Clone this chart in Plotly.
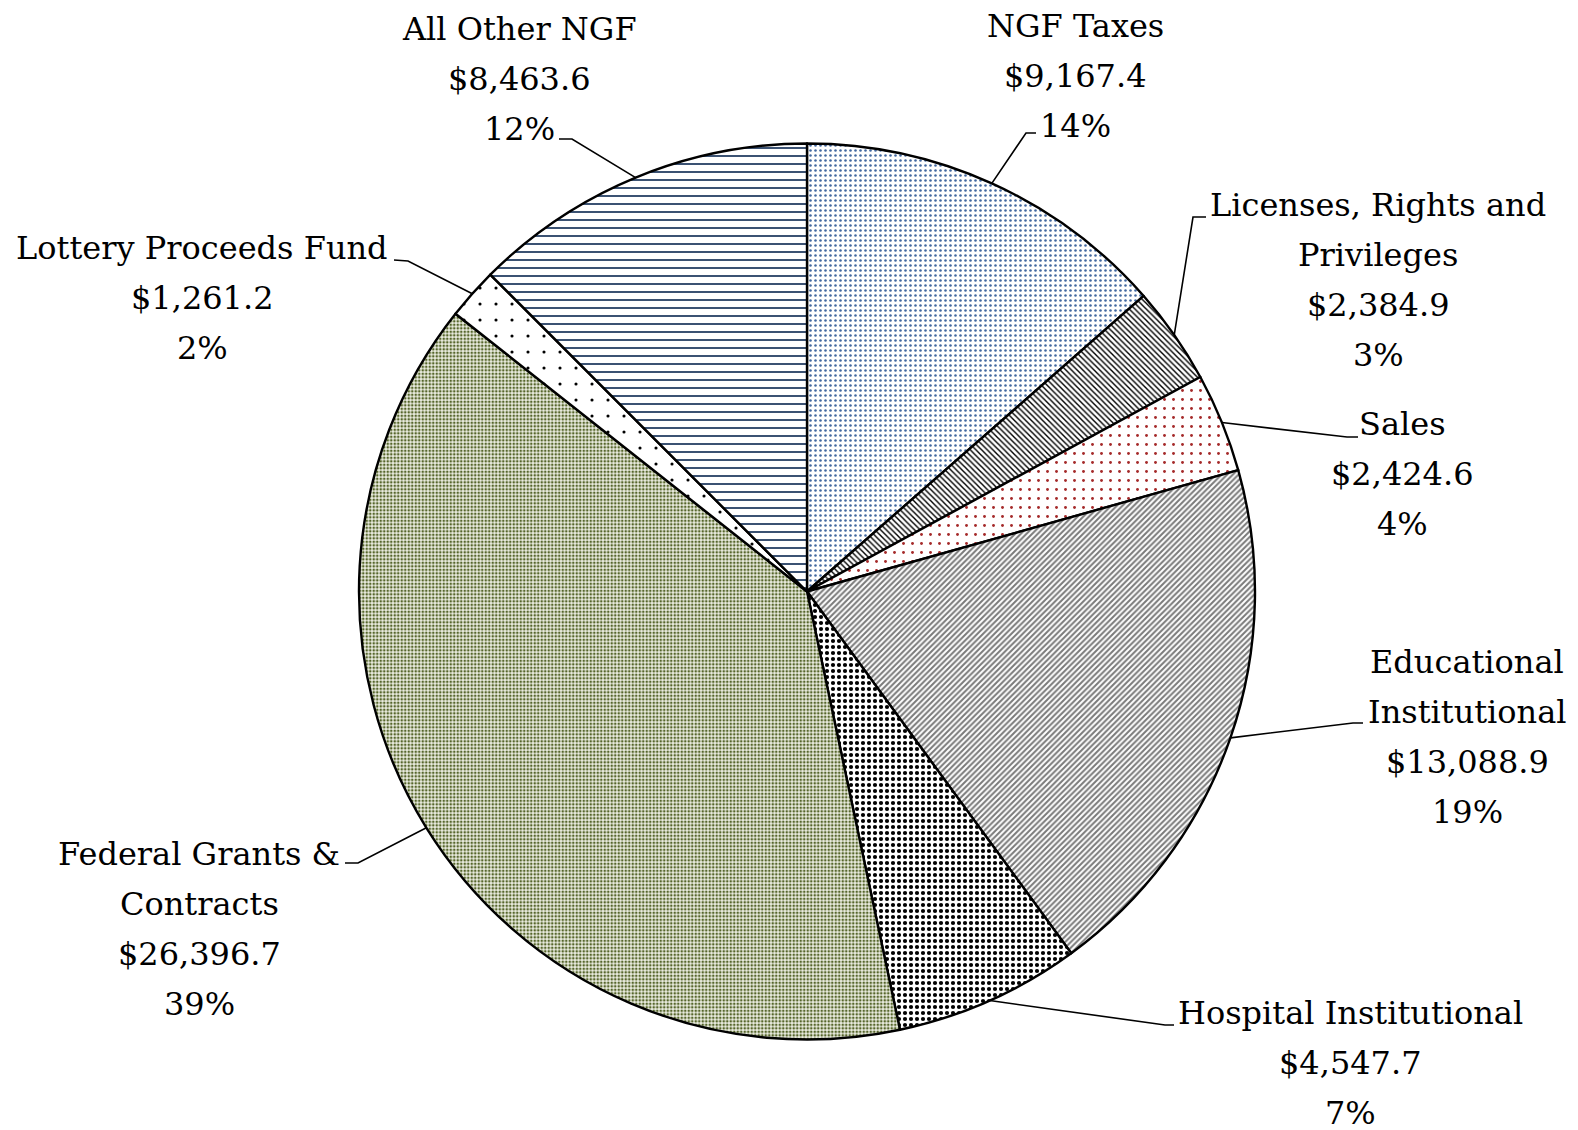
import math
import plotly.graph_objects as go

# ---- data ----
categories = ["NGF Taxes", "Licenses, Rights and Privileges", "Sales",
              "Educational Institutional", "Hospital Institutional",
              "Federal Grants & Contracts", "Lottery Proceeds Fund", "All Other NGF"]
values = [9167.4, 2384.9, 2424.6, 13088.9, 4547.7, 26396.7, 1261.2, 8463.6]
pct_labels = ["14%", "3%", "4%", "19%", "7%", "39%", "2%", "12%"]
label_lines = [
    ["NGF Taxes"],
    ["Licenses, Rights and", "Privileges"],
    ["Sales"],
    ["Educational", "Institutional"],
    ["Hospital Institutional"],
    ["Federal Grants &", "Contracts"],
    ["Lottery Proceeds Fund"],
    ["All Other NGF"],
]

# ---- styles ----
W, H = 1578, 1130
OFF = 8  # page body margin offset
CX, CY, R = 807, 591.5, 448
FONT = "DejaVu Serif"
FS = 32
LINE_H = 50

pat_shape = [".", "\\", ".", "/", ".", ".", ".", "-"]
pat_fg = ["#4368a0", "#000000", "#a52a2a", "#7a7a7a", "#000000", "#55652a", "#000000", "#1f3a60"]
pat_bg = ["#ffffff", "#ffffff", "#ffffff", "#ffffff", "#ffffff", "#eceee2", "#ffffff", "#ffffff"]
pat_size = [5, 4, 9, 4, 6, 3.5, 16, 8]
pat_sol = [0.2, 0.35, 0.08, 0.5, 0.38, 0.45, 0.03, 0.22]

# label layout: (center x, first line cap-middle y) in pixels
label_pos = [(1075, 25), (1378, 204), (1402, 423), (1467, 661),
             (1350, 1012), (199, 853), (202, 247), (520, 28)]
# leader elbow and end points in pixels
elbows = [(1026, 133), (1193, 217), (1347, 437), (1353, 723),
          (1165, 1025), (358, 863), (408, 261), (572, 139)]
ends = [(1036, 133), (1206, 217), (1358, 437), (1363, 723),
        (1174, 1025), (345, 863), (394, 260), (559, 139)]


def px(x):
    return (x - OFF) / W


def py(y):
    return 1 - (y - OFF) / H


fig = go.Figure()
fig.add_trace(go.Pie(
    labels=categories,
    values=values,
    sort=False,
    direction="clockwise",
    rotation=0,
    textinfo="none",
    hoverinfo="label+value+percent",
    marker=dict(
        line=dict(color="#000000", width=2.4),
        pattern=dict(shape=pat_shape, fgcolor=pat_fg, bgcolor=pat_bg,
                     size=pat_size, solidity=pat_sol, fillmode="replace"),
    ),
    domain=dict(x=[px(CX - R), px(CX + R)], y=[py(CY + R), py(CY - R)]),
    showlegend=False,
))

annotations = []
shapes = []
total = sum(values)
cum = 0.0
for i, v in enumerate(values):
    mid = (cum + v / 2) / total * 2 * math.pi
    cum += v
    ex = CX + R * math.sin(mid)
    ey = CY - R * math.cos(mid)
    bx, by = elbows[i]
    qx, qy = ends[i]
    shapes.append(dict(type="path", xref="paper", yref="paper",
                       path=f"M {px(ex)},{py(ey)} L {px(bx)},{py(by)} L {px(qx)},{py(qy)}",
                       line=dict(color="#000000", width=1.6)))
    lines = label_lines[i] + [f"${v:,.1f}", pct_labels[i]]
    cx0, cy0 = label_pos[i]
    for j, t in enumerate(lines):
        annotations.append(dict(
            x=px(cx0), y=py(cy0 + j * LINE_H + 1), xref="paper", yref="paper",
            text=t, showarrow=False, xanchor="center", yanchor="middle",
            font=dict(family=FONT, size=FS, color="#000000"),
        ))

fig.update_layout(
    width=W, height=H,
    margin=dict(l=0, r=0, t=0, b=0),
    paper_bgcolor="#ffffff",
    plot_bgcolor="#ffffff",
    annotations=annotations,
    shapes=shapes,
)

fig.write_html("out.html")
